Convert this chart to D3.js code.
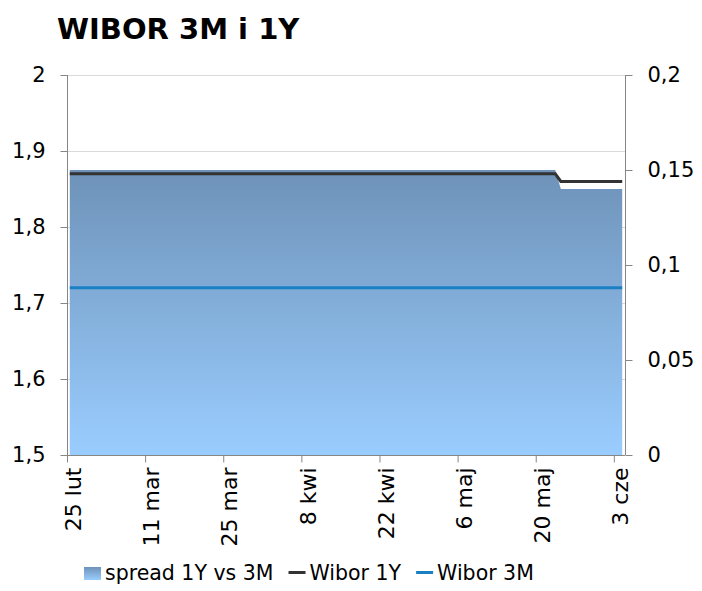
<!DOCTYPE html>
<html><head><meta charset="utf-8">
<script src="https://cdn.jsdelivr.net/npm/d3@7"></script>
<style>
html,body{margin:0;padding:0;background:#fff;}
svg text{font-family:"DejaVu Sans",Verdana,sans-serif;fill:#000;}
</style></head>
<body>
<svg id="chart" width="702" height="591"></svg>
<script>
// ---- data ----
const title = "WIBOR 3M i 1Y";
const dates = [
 "2013-02-25","2013-02-26","2013-02-27","2013-02-28",
 "2013-03-01","2013-03-04","2013-03-05","2013-03-06","2013-03-07","2013-03-08",
 "2013-03-11","2013-03-12","2013-03-13","2013-03-14","2013-03-15",
 "2013-03-18","2013-03-19","2013-03-20","2013-03-21","2013-03-22",
 "2013-03-25","2013-03-26","2013-03-27","2013-03-28","2013-03-29",
 "2013-04-02","2013-04-03","2013-04-04","2013-04-05",
 "2013-04-08","2013-04-09","2013-04-10","2013-04-11","2013-04-12",
 "2013-04-15","2013-04-16","2013-04-17","2013-04-18","2013-04-19",
 "2013-04-22","2013-04-23","2013-04-24","2013-04-25","2013-04-26",
 "2013-04-29","2013-04-30","2013-05-02",
 "2013-05-06","2013-05-07","2013-05-08","2013-05-09","2013-05-10",
 "2013-05-13","2013-05-14","2013-05-15","2013-05-16","2013-05-17",
 "2013-05-20","2013-05-21","2013-05-22","2013-05-23",
 "2013-05-24","2013-05-27","2013-05-28","2013-05-29","2013-05-31",
 "2013-06-03","2013-06-04"
];
const wibor1Y = [
 1.87,1.87,1.87,1.87,
 1.87,1.87,1.87,1.87,1.87,1.87,
 1.87,1.87,1.87,1.87,1.87,
 1.87,1.87,1.87,1.87,1.87,
 1.87,1.87,1.87,1.87,1.87,
 1.87,1.87,1.87,1.87,
 1.87,1.87,1.87,1.87,1.87,
 1.87,1.87,1.87,1.87,1.87,
 1.87,1.87,1.87,1.87,1.87,
 1.87,1.87,1.87,
 1.87,1.87,1.87,1.87,1.87,
 1.87,1.87,1.87,1.87,1.87,
 1.87,1.87,1.87,1.87,
 1.86,1.86,1.86,1.86,1.86,
 1.86,1.86
];
const wibor3M = [
 1.72,1.72,1.72,1.72,
 1.72,1.72,1.72,1.72,1.72,1.72,
 1.72,1.72,1.72,1.72,1.72,
 1.72,1.72,1.72,1.72,1.72,
 1.72,1.72,1.72,1.72,1.72,
 1.72,1.72,1.72,1.72,
 1.72,1.72,1.72,1.72,1.72,
 1.72,1.72,1.72,1.72,1.72,
 1.72,1.72,1.72,1.72,1.72,
 1.72,1.72,1.72,
 1.72,1.72,1.72,1.72,1.72,
 1.72,1.72,1.72,1.72,1.72,
 1.72,1.72,1.72,1.72,
 1.72,1.72,1.72,1.72,1.72,
 1.72,1.72
];
const spread = [
 0.15,0.15,0.15,0.15,
 0.15,0.15,0.15,0.15,0.15,0.15,
 0.15,0.15,0.15,0.15,0.15,
 0.15,0.15,0.15,0.15,0.15,
 0.15,0.15,0.15,0.15,0.15,
 0.15,0.15,0.15,0.15,
 0.15,0.15,0.15,0.15,0.15,
 0.15,0.15,0.15,0.15,0.15,
 0.15,0.15,0.15,0.15,0.15,
 0.15,0.15,0.15,
 0.15,0.15,0.15,0.15,0.15,
 0.15,0.15,0.15,0.15,0.15,
 0.15,0.15,0.15,0.15,
 0.14,0.14,0.14,0.14,0.14,
 0.14,0.14
];
const xTickDates = ["2013-02-25","2013-03-11","2013-03-25","2013-04-08","2013-04-22","2013-05-06","2013-05-20","2013-06-03"];
const xTickLabels = ["25 lut","11 mar","25 mar","8 kwi","22 kwi","6 maj","20 maj","3 cze"];
const leftTicks = [1.5,1.6,1.7,1.8,1.9,2.0];
const rightTicks = [0,0.05,0.1,0.15,0.2];
const seriesNames = ["spread 1Y vs 3M","Wibor 1Y","Wibor 3M"];

// ---- layout ----
const svg = d3.select("#chart");
const L = 67, R = 625, T = 75, B = 455;
const parse = d3.timeParse("%Y-%m-%d");
const dayStart = parse("2013-02-25"), dayEnd = parse("2013-06-05");
const x = d3.scaleTime().domain([dayStart, dayEnd]).range([L, R]);
const yL = d3.scaleLinear().domain([1.5, 2.0]).range([B, T]);
const yR = d3.scaleLinear().domain([0, 0.2]).range([B, T]);
const mid = d => d3.timeHour.offset(parse(d), 12);
const fmt = v => d3.format("")(+v.toFixed(2)).replace(".", ",");

const data = dates.map((d, i) => ({t: mid(d), y1: wibor1Y[i], y3: wibor3M[i], s: spread[i]}));

// title
svg.append("text").attr("x", 57).attr("y", 39).attr("font-size", 29).attr("font-weight", "bold").text(title);

// gridlines
svg.append("g").selectAll("line").data(leftTicks.slice(1)).join("line")
  .attr("x1", L).attr("x2", R).attr("y1", d => Math.round(yL(d)) + 0.5).attr("y2", d => Math.round(yL(d)) + 0.5)
  .attr("stroke", "#d9d9d9").attr("stroke-width", 1);

// gradient
const defs = svg.append("defs");
const grad = defs.append("linearGradient").attr("id", "ag").attr("gradientUnits", "userSpaceOnUse")
  .attr("x1", 0).attr("x2", 0).attr("y1", yR(d3.max(spread))).attr("y2", yR(0));
grad.append("stop").attr("offset", "0%").attr("stop-color", "#6e92b8");
grad.append("stop").attr("offset", "100%").attr("stop-color", "#9acdff");
const lg = defs.append("linearGradient").attr("id", "lg").attr("x1", 0).attr("x2", 0).attr("y1", 0).attr("y2", 1);
lg.append("stop").attr("offset", "0%").attr("stop-color", "#6e92b8");
lg.append("stop").attr("offset", "100%").attr("stop-color", "#9acdff");

// area
svg.append("path").datum(data)
  .attr("d", d3.area().x(d => x(d.t)).y0(yR(0)).y1(d => yR(d.s)))
  .attr("fill", "url(#ag)");

// lines
svg.append("path").datum(data)
  .attr("d", d3.line().x(d => x(d.t)).y(d => yL(d.y1)))
  .attr("fill", "none").attr("stroke", "#333333").attr("stroke-width", 3);
svg.append("path").datum(data)
  .attr("d", d3.line().x(d => x(d.t)).y(d => yL(d.y3)))
  .attr("fill", "none").attr("stroke", "#1a80c4").attr("stroke-width", 3);

// axes
const axisColor = "#868686";
const gl = svg.append("g").attr("transform", `translate(${L + 0.5},0)`)
  .call(d3.axisLeft(yL).tickValues(leftTicks).tickSize(7).tickPadding(15).tickFormat(fmt));
const gr = svg.append("g").attr("transform", `translate(${R + 0.5},0)`)
  .call(d3.axisRight(yR).tickValues(rightTicks).tickSize(7).tickPadding(15).tickFormat(fmt));
const gx = svg.append("g").attr("transform", `translate(0,${B + 0.5})`)
  .call(d3.axisBottom(x).tickValues(xTickDates.map(parse)).tickSize(7).tickFormat((d, i) => xTickLabels[i]));
[gl, gr, gx].forEach(g => {
  g.select(".domain").attr("stroke", axisColor);
  g.selectAll(".tick line").attr("stroke", axisColor);
  g.selectAll("text").attr("font-size", 21).attr("fill", "#000").attr("font-family", "DejaVu Sans");
});
gx.selectAll("text").attr("font-size", 22);
gx.select(".domain").attr("d", `M${L},0H${R}`);
gl.select(".domain").attr("d", `M0,${T}V${B}`);
gr.select(".domain").attr("d", `M0,${T}V${B}`);
gx.selectAll(".tick text")
  .attr("text-anchor", "end")
  .attr("x", -12).attr("y", 0).attr("dy", "0.35em")
  .attr("dx", 0)
  .attr("transform", "translate(6,0) rotate(-90)");

// legend
const leg = svg.append("g");
let lx = 84;
const ly = 580;
leg.append("rect").attr("x", lx).attr("y", ly - 13).attr("width", 17).attr("height", 13).attr("fill", "url(#lg)");
let t1 = leg.append("text").attr("x", lx + 21).attr("y", ly).attr("font-size", 20.5).text(seriesNames[0]);
lx = lx + 21 + t1.node().getComputedTextLength() + 15;
leg.append("line").attr("x1", lx).attr("x2", lx + 17).attr("y1", ly - 7.5).attr("y2", ly - 7.5).attr("stroke", "#333333").attr("stroke-width", 3);
let t2 = leg.append("text").attr("x", lx + 21).attr("y", ly).attr("font-size", 20.5).text(seriesNames[1]);
lx = lx + 21 + t2.node().getComputedTextLength() + 15;
leg.append("line").attr("x1", lx).attr("x2", lx + 17).attr("y1", ly - 7.5).attr("y2", ly - 7.5).attr("stroke", "#1a80c4").attr("stroke-width", 3);
leg.append("text").attr("x", lx + 21).attr("y", ly).attr("font-size", 20.5).text(seriesNames[2]);
</script>
</body></html>
